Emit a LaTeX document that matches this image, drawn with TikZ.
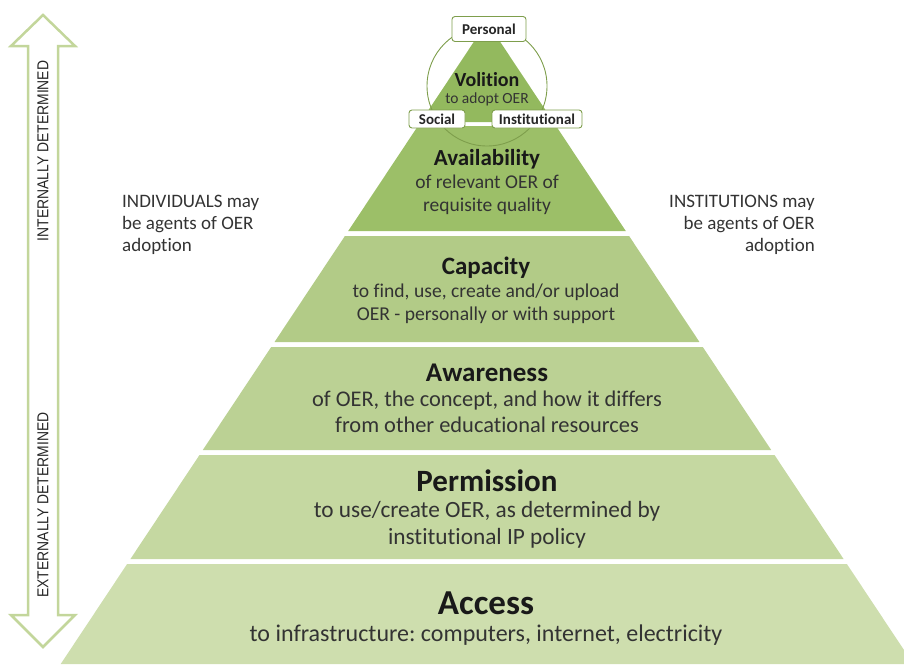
\documentclass[tikz,border=0pt]{standalone}
\usepackage{fontspec}
\setmainfont{Carlito}[Ligatures=NoCommon]
\newfontfamily\narrowfont[FakeStretch=0.88]{Liberation Sans}
\usetikzlibrary{positioning}
\frenchspacing

\definecolor{volgreen}{HTML}{93B95E}
\definecolor{availgreen}{HTML}{9CBF68}
\definecolor{capgreen}{HTML}{B2CB87}
\definecolor{awaregreen}{HTML}{BBD194}
\definecolor{permgreen}{HTML}{C5D8A1}
\definecolor{accgreen}{HTML}{CEDEAE}
\definecolor{ringgreen}{HTML}{7E9E4C}
\definecolor{arrowgreen}{HTML}{C3D69B}

\newcommand{\fs}[1]{\fontsize{#1}{1.15\dimexpr#1pt\relax}\selectfont}

\begin{document}
\begin{tikzpicture}[x=1pt, y=-1pt]
    \tikzstyle{title} = [text=black!90, font=\bfseries, inner sep=0pt]
    \tikzstyle{body} = [text=black!80, align=center, inner sep=0pt]
    \tikzstyle{tag} = [draw=ringgreen, fill=white, line width=0.9pt, rounded corners=3pt, inner sep=0pt, text=black!85, font=\bfseries\fs{15}]
    \tikzstyle{side} = [text=black!80, inner sep=0pt, font=\fs{19}]
    \tikzstyle{axis} = [text=black!85, rotate=90, inner sep=0pt, font=\narrowfont\fs{15.8}]

    \useasboundingbox (0,0) rectangle (904,664);

    % pyramid layers
    \foreach \t/\b/\c in {22/122/volgreen, 126/231/availgreen, 236/342/capgreen, 347/450/awaregreen, 455/559/permgreen, 564/664/accgreen}
        \fill[\c] ({487-0.664*(\t-22)},\t) -- ({487+0.664*(\t-22)},\t) -- ({487+0.664*(\b-22)},\b) -- ({487-0.664*(\b-22)},\b) -- cycle;

    % volition ring and tags
    \draw[ringgreen, line width=0.9pt] (487,86) circle[radius=60pt];
    \node [tag, minimum width=74pt, minimum height=25pt] (personal) at (489,29) {Personal};
    \node [tag, minimum width=56pt, minimum height=18pt] (social) at (437,119) {Social};
    \node [tag, minimum width=90pt, minimum height=18pt] (institutional) at (537,119) {Institutional};

    \node [title, font=\bfseries\fs{20}] (volition) at (487,80) {Volition};
    \node [body, font=\fs{15.5}] (volitionsub) at (487,99) {to adopt OER};

    \node [title, font=\bfseries\fs{23}] (availability) at (487,159) {Availability};
    \node [body, font=\fs{19.5}] (availabilitysub) at (487,195) {of relevant OER of\\requisite quality};

    \node [title, font=\bfseries\fs{25}] (capacity) at (486,268) {Capacity};
    \node [body, font=\fs{19.6}] (capacitysub) at (486,304) {to find, use, create and/or upload\\OER - personally or with support};

    \node [title, font=\bfseries\fs{27}] (awareness) at (487,373) {Awareness};
    \node [body, font=\fs{22.4}] (awarenesssub) at (487,412) {of OER, the concept, and how it differs\\from other educational resources};

    \node [title, font=\bfseries\fs{31}] (permission) at (487,481) {Permission};
    \node [body, font=\fs{23.3}] (permissionsub) at (487,525) {to use/create OER, as determined by\\institutional IP policy};

    \node [title, font=\bfseries\fs{35}] (access) at (486,603) {Access};
    \node [body, font=\fs{24}] (accesssub) at (486,635) {to infrastructure: computers, internet, electricity};

    % agents
    \node [side, anchor=west, align=left] (individuals) at (122,225) {INDIVIDUALS may\\be agents of OER\\adoption};
    \node [side, anchor=east, align=right] (institutions) at (815,225) {INSTITUTIONS may\\be agents of OER\\adoption};

    % double arrow
    \draw[arrowgreen, line width=2.5pt, line join=miter] (43,15) -- (75,46) -- (58,46) -- (58,615) -- (75,615) -- (43,647) -- (11,615) -- (28,615) -- (28,46) -- (11,46) -- cycle;
    \node [axis] (internal) at (43,151) {INTERNALLY DETERMINED};
    \node [axis] (external) at (43,505) {EXTERNALLY DETERMINED};
\end{tikzpicture}
\end{document}
